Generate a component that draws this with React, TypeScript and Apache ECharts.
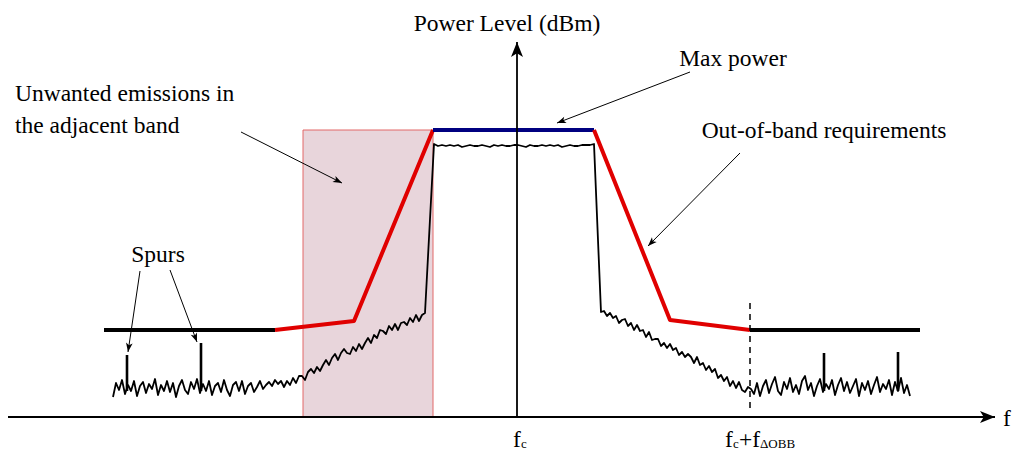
import React, { useEffect, useRef } from "react";
import * as echarts from "echarts";

// x: frequency offset from fc (chart units), y: power level above the axis floor (chart units)
const maskLeftFloor = [[-413, 87], [-242, 87]];
const maskLeftSlope = [[-242, 87], [-163, 96], [-84, 287]];
const maskInBand = [[-84, 287], [77, 287]];
const maskRightSlope = [[77, 287], [153, 97], [233, 87]];
const maskRightFloor = [[233, 87], [403, 87]];

const adjacentBand = [[-214, 0], [-84, 287]];
const obbEdge = [[233, 114], [233, 4]];

// measured spectrum trace, sampled segments
const floorLeftStart = -404;
const floorLeftStep = 3;
const floorLeft = [
  20, 34, 27, 37, 23, 32, 26, 36, 21, 31,
  35, 24, 33, 28, 38, 22, 32, 26, 36, 25,
  34, 20, 31, 37, 27, 23, 35, 28, 38, 24,
  33, 26, 36, 22, 31, 34, 25, 37, 27, 21,
  32, 35, 26, 36, 23, 31, 34, 25, 30, 36,
  28, 32, 35, 31, 37, 33, 36,
];
const risingStart = -233;
const risingStep = 3;
const rising = [
  30, 36, 32, 39, 34, 41, 41, 37, 45, 48,
  44, 50, 46, 52, 57, 52, 59, 63, 57, 64,
  68, 64, 63, 70, 66, 73, 68, 74, 79, 74,
  82, 79, 87, 86, 83, 91, 87, 93, 87, 94,
  95, 92, 99, 95, 102, 96, 102,
];
const risingEnd = [-92, 104];
const flatStart = -83;
const flatStep = 4;
const flatTop = [
  273, 271, 272, 271, 272, 271, 272, 270, 271, 272,
  271, 271, 272, 271, 270, 272, 271, 272, 271, 271,
  272, 272, 271, 270, 272, 271, 271, 272, 271, 272,
  271, 272, 270, 271, 272, 271, 271, 272, 272, 272,
  273,
];
const decayStart = 84;
const decayStep = 3;
const decay = [
  105, 106, 101, 104, 99, 101, 94, 97, 98, 91,
  94, 87, 92, 86, 87, 80, 85, 77, 78, 78,
  71, 74, 69, 73, 67, 69, 62, 65, 60, 63,
  60, 54, 60, 52, 54, 47, 51, 45, 48, 39,
  42, 36, 40, 31, 36, 29, 35, 27, 25, 30,
];
const floorRightStart = 234;
const floorRightStep = 3;
const floorRight = [
  28, 23, 34, 21, 31, 37, 24, 33, 40, 26,
  22, 35, 28, 39, 25, 32, 23, 36, 41, 27,
  34, 21, 31, 38, 25, 33, 28, 37, 22, 32,
  39, 26, 35, 24, 31, 38, 21, 34, 27, 36,
  23, 32, 40, 25, 33, 28, 37, 22, 35, 26,
  39, 24, 32, 21,
];

const spurX = [-390, -316, 307, 381];
const spurPeak = [62, 74, 64, 65];
const spurBase = 26;

// annotation arrows: [from, to]
const arrowMaxPower = [[173, 345], [40, 294]];
const arrowUnwanted = [[-276, 285], [-175, 234]];
const arrowOOB = [[223, 264], [131, 171]];
const arrowSpur1 = [[-377, 146], [-389, 65]];
const arrowSpur2 = [[-347, 147], [-320, 75]];

const freqAxis = [[-509, 0], [478, 0]];
const powerAxis = [[0, 0], [0, 375]];

const SERIF = "'Liberation Serif', 'Times New Roman', serif";

export default function App() {
  const ref = useRef<HTMLDivElement>(null);
  useEffect(() => {
    if (!ref.current) return;
    const chart = echarts.init(ref.current, undefined, { renderer: "svg" });

    const seg = (start: number, step: number, vals: number[]) =>
      vals.map((v, i) => [start + i * step, v]);
    const trace = [
      ...seg(floorLeftStart, floorLeftStep, floorLeft),
      ...seg(risingStart, risingStep, rising),
      risingEnd,
      ...seg(flatStart, flatStep, flatTop),
      ...seg(decayStart, decayStep, decay),
      ...seg(floorRightStart, floorRightStep, floorRight),
    ];

    const lineS = (name: string, data: number[][], color: string, width: number, z = 3, type: any = "solid") => ({
      name,
      type: "line",
      data,
      symbol: "none",
      silent: true,
      z,
      lineStyle: { color, width, type, cap: "butt", join: "round" },
    });

    const arrowPair = (a: number[][]) => [{ coord: a[0] }, { coord: a[1] }];

    const txt = (text: string, x: number, y: number, align = "center", size = 23.5) => ({
      type: "text",
      x,
      y,
      silent: true,
      z: 50,
      style: {
        text,
        fill: "#000",
        fontFamily: SERIF,
        fontSize: size,
        align,
        verticalAlign: "middle",
      },
    });

    chart.setOption({
      animation: false,
      backgroundColor: "#fff",
      grid: { left: 0, right: 0, top: 0, bottom: 0, containLabel: false },
      xAxis: { type: "value", min: -517, max: 500, show: false },
      yAxis: { type: "value", min: -34, max: 417, show: false },
      series: [
        {
          name: "band",
          type: "line",
          data: [],
          silent: true,
          z: 1,
          markArea: {
            silent: true,
            itemStyle: { color: "#e8d5db", borderColor: "#e26868", borderWidth: 1 },
            data: [[{ coord: adjacentBand[0] }, { coord: adjacentBand[1] }]],
          },
        },
        lineS("trace", trace, "#000", 1.8, 3),
        ...spurX.map((x, i) =>
          lineS("spur" + i, [[x, spurBase], [x, spurPeak[i]]], "#000", 2.6, 3)
        ),
        lineS("maskLF", maskLeftFloor, "#000", 4, 4),
        lineS("maskLS", maskLeftSlope, "#e00000", 4, 4),
        lineS("maskIB", maskInBand, "#000080", 4, 4),
        lineS("maskRS", maskRightSlope, "#e00000", 4, 4),
        lineS("maskRF", maskRightFloor, "#000", 4, 4),
        lineS("obb", obbEdge, "#000", 1.5, 5, [6, 5]),
        {
          name: "axes",
          type: "line",
          data: [],
          silent: true,
          z: 6,
          markLine: {
            silent: true,
            symbol: ["none", "arrow"],
            symbolSize: [9, 15],
            label: { show: false },
            lineStyle: { color: "#000", width: 1.8, type: "solid" },
            data: [arrowPair(freqAxis), arrowPair(powerAxis)],
          },
        },
        {
          name: "notes",
          type: "line",
          data: [],
          silent: true,
          z: 6,
          markLine: {
            silent: true,
            symbol: ["none", "arrow"],
            symbolSize: [5, 9],
            label: { show: false },
            lineStyle: { color: "#000", width: 1, type: "solid" },
            data: [arrowMaxPower, arrowUnwanted, arrowOOB, arrowSpur1, arrowSpur2].map(arrowPair),
          },
        },
      ],
      graphic: [
        txt("Power Level (dBm)", 507, 23),
        txt("Max power", 733, 58),
        txt("Out-of-band requirements", 824, 130),
        txt("Unwanted emissions in", 15, 93, "left"),
        txt("the adjacent band", 15, 125, "left"),
        txt("Spurs", 158, 254),
        txt("f", 1007, 418),
        txt("f", 513, 438.5, "left"),
        txt("c", 521, 443, "left", 13),
        txt("f", 725, 438.5, "left"),
        txt("c", 733, 443, "left", 13),
        txt("+f", 739, 438.5, "left"),
        txt("ΔOBB", 760, 443, "left", 13),
      ],
    });
    return () => chart.dispose();
  }, []);
  return (
    <div
      ref={ref}
      style={{ position: "absolute", left: 0, top: 0, width: 1017, height: 451, background: "#fff" }}
    />
  );
}
